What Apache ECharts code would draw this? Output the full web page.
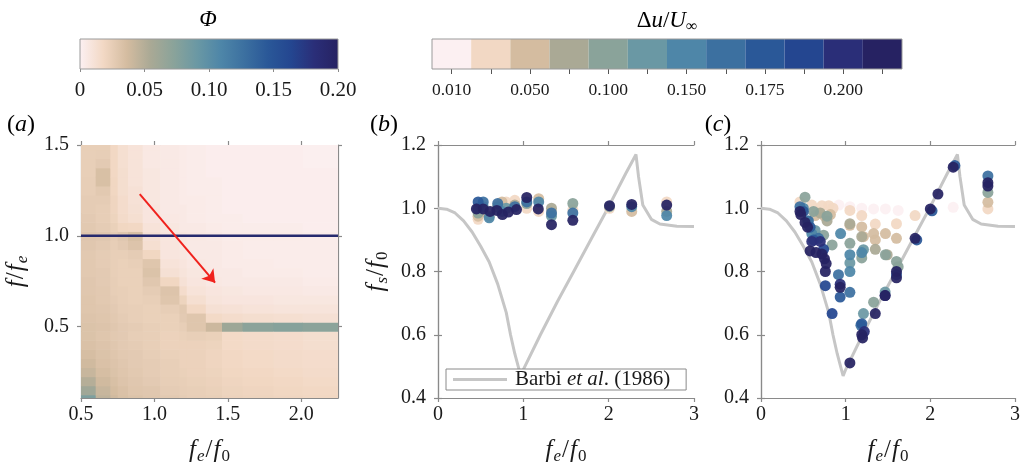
<!DOCTYPE html>
<html>
<head>
<meta charset="utf-8">
<script src="https://cdn.jsdelivr.net/npm/echarts@6/dist/echarts.min.js"></script>
<style>
  html, body { margin: 0; padding: 0; background: #fff; }
  #chart { width: 1025px; height: 470px; }
</style>
</head>
<body>
<div id="chart"></div>
<script>
// Shared colour scale, light (low) to dark navy (high)
const palette = ['#fcf0f2', '#f2d8c4', '#d4bca0', '#aaa995', '#8aa39a', '#6a98a4',
                 '#4e86a8', '#3c70a0', '#2a5898', '#244690', '#2a2e78', '#262262'];

// Colour bar ticks
const phiTicks = [0, 0.05, 0.1, 0.15, 0.2];
const phiTickLabels = ['0', '0.05', '0.10', '0.15', '0.20'];
const duTickLabels = ['0.010', '', '0.050', '', '0.100', '', '0.150', '', '0.175', '', '0.200', ''];

// Panel (a): spectral map Φ(f_e/f_0, f/f_e)
const heatColumnEdges = [0.5, 0.6, 0.7, 0.75, 0.82, 0.92, 1.04, 1.17, 1.22, 1.35, 1.46, 1.6, 1.81, 2.01, 2.25];
const heatRowCenters = [0.10, 0.15, 0.20, 0.25, 0.30, 0.35, 0.40, 0.45, 0.50, 0.55, 0.60, 0.65, 0.70, 0.75,
                        0.80, 0.85, 0.90, 0.95, 1.00, 1.05, 1.10, 1.15, 1.20, 1.25, 1.30, 1.35, 1.40, 1.45, 1.50];
const phiColumns = [
  [0.08,0.06,0.05,0.042,0.038,0.035,0.033,0.032,0.032,0.031,0.03,0.03,0.029,0.029,0.028,0.028,0.028,0.029,0.03,0.028,0.027,0.026,0.026,0.025,0.025,0.024,0.024,0.024,0.024],
  [0.045,0.042,0.038,0.035,0.033,0.032,0.031,0.03,0.031,0.03,0.029,0.028,0.028,0.027,0.027,0.026,0.026,0.027,0.029,0.026,0.025,0.025,0.026,0.028,0.034,0.034,0.027,0.025,0.024],
  [0.038,0.036,0.034,0.032,0.031,0.03,0.029,0.028,0.029,0.028,0.027,0.026,0.025,0.025,0.024,0.024,0.024,0.025,0.026,0.023,0.021,0.02,0.02,0.019,0.019,0.018,0.018,0.018,0.018],
  [0.034,0.033,0.031,0.03,0.029,0.028,0.027,0.027,0.027,0.026,0.025,0.024,0.024,0.023,0.023,0.023,0.024,0.027,0.029,0.019,0.016,0.015,0.015,0.014,0.014,0.014,0.013,0.013,0.013],
  [0.032,0.03,0.029,0.028,0.027,0.027,0.026,0.025,0.026,0.024,0.024,0.023,0.023,0.023,0.023,0.024,0.026,0.031,0.034,0.018,0.013,0.012,0.011,0.011,0.01,0.01,0.01,0.01,0.01],
  [0.03,0.029,0.027,0.026,0.026,0.025,0.024,0.024,0.024,0.023,0.023,0.024,0.026,0.029,0.032,0.03,0.019,0.013,0.012,0.01,0.008,0.008,0.007,0.007,0.007,0.007,0.006,0.006,0.006],
  [0.028,0.026,0.025,0.024,0.024,0.023,0.022,0.022,0.023,0.023,0.025,0.03,0.031,0.019,0.012,0.01,0.008,0.008,0.008,0.007,0.006,0.005,0.005,0.005,0.005,0.005,0.005,0.005,0.005],
  [0.026,0.025,0.024,0.023,0.022,0.022,0.022,0.023,0.025,0.027,0.028,0.021,0.015,0.011,0.009,0.008,0.007,0.006,0.007,0.005,0.005,0.005,0.004,0.004,0.004,0.004,0.004,0.004,0.004],
  [0.025,0.024,0.023,0.022,0.022,0.022,0.022,0.024,0.03,0.03,0.018,0.013,0.01,0.008,0.007,0.006,0.005,0.005,0.006,0.005,0.004,0.004,0.004,0.003,0.003,0.003,0.003,0.003,0.003],
  [0.024,0.023,0.022,0.021,0.02,0.02,0.021,0.023,0.04,0.017,0.012,0.009,0.008,0.006,0.005,0.005,0.005,0.005,0.005,0.004,0.003,0.003,0.003,0.003,0.003,0.002,0.002,0.002,0.002],
  [0.022,0.021,0.02,0.019,0.018,0.018,0.017,0.017,0.062,0.015,0.011,0.008,0.007,0.005,0.005,0.004,0.004,0.004,0.004,0.003,0.003,0.002,0.002,0.002,0.002,0.002,0.002,0.002,0.002],
  [0.021,0.02,0.019,0.018,0.017,0.017,0.016,0.016,0.072,0.014,0.01,0.008,0.006,0.005,0.004,0.004,0.003,0.003,0.004,0.003,0.002,0.002,0.002,0.002,0.002,0.002,0.002,0.002,0.002],
  [0.02,0.019,0.018,0.017,0.016,0.016,0.015,0.015,0.075,0.013,0.009,0.007,0.006,0.005,0.004,0.003,0.003,0.003,0.004,0.003,0.002,0.002,0.002,0.002,0.002,0.002,0.002,0.002,0.002],
  [0.019,0.018,0.017,0.016,0.015,0.015,0.014,0.014,0.072,0.012,0.009,0.007,0.005,0.004,0.003,0.003,0.003,0.003,0.003,0.002,0.002,0.002,0.002,0.002,0.002,0.002,0.001,0.001,0.001]
];
const forcingLine = [[0.5, 1.0], [2.25, 1.0]];
const driftArrow = [[0.9, 1.23], [1.413, 0.742]];

// Barbi et al. (1986) lock-in curve, f_s/f_0 against f_e/f_0
const barbiX = [0, 0.1, 0.2, 0.3, 0.4, 0.5, 0.6, 0.7, 0.8, 0.85, 0.9, 0.95, 0.97, 1.0, 1.2, 1.4, 1.6, 1.8, 2.0, 2.2, 2.32, 2.35, 2.4, 2.5, 2.6, 2.8, 3.0];
const barbiY = [1.0, 0.997, 0.985, 0.96, 0.925, 0.88, 0.83, 0.76, 0.67, 0.6, 0.54, 0.49, 0.47, 0.49, 0.6, 0.705, 0.805, 0.905, 1.005, 1.11, 1.17, 1.1, 1.01, 0.965, 0.95, 0.943, 0.942];

// Measured shedding frequency: [f_e/f_0, f_s/f_0, Δu level index]
const panelBPoints = [
  [0.47,0.965,1],[0.53,0.99,2],[0.6,0.975,3],[0.7,1.01,1],[0.75,1.02,2],[0.8,1.02,1],[0.9,1.025,1],[1.04,1.0,1],
  [1.18,0.99,1],[1.18,1.03,2],[1.33,0.99,1],[1.33,1.0,3],[1.58,0.995,1],[2.01,1.0,1],[2.27,0.99,2],[2.68,1.02,1],[2.68,0.99,3],
  [0.47,0.975,2],[0.47,0.985,4],[0.53,1.005,5],[0.7,1.005,4],[0.8,1.0,5],[0.9,1.01,3],[1.04,1.015,4],[1.33,0.975,5],[1.58,1.015,4],[2.01,1.005,4],
  [0.47,1.0,6],[0.6,0.97,6],[0.75,0.99,6],[1.18,1.02,6],[2.27,1.005,6],[2.68,0.977,6],
  [0.47,1.02,8],[0.53,1.02,7],[0.7,1.015,7],[0.9,1.005,7],[1.04,1.02,7],[1.33,0.985,7],[1.58,0.985,7],
  [0.45,0.998,11],[0.53,0.998,11],[0.61,0.99,11],[0.69,0.993,11],[0.755,0.98,11],[0.825,0.988,11],[0.92,0.996,11],
  [1.04,1.034,11],[1.175,0.998,11],[1.33,0.948,11],[1.58,0.962,11],[2.01,1.008,11],[2.27,1.012,11],[2.68,1.01,11]
];
const panelCPoints = [
  [0.92,1.01,0],[1.05,1.005,0],[1.19,1.0,0],[1.33,0.998,0],[1.47,0.998,0],[1.62,0.993,0],[2.27,1.003,0],
  [0.46,1.02,1],[0.6,1.01,1],[0.65,0.99,1],[0.72,1.008,1],[0.8,1.008,1],[0.85,1.0,1],[1.05,0.993,1],[1.19,0.977,1],
  [1.35,0.95,1],[1.6,0.951,1],[1.82,0.977,1],[2.68,0.998,1],
  [0.64,0.977,2],[0.75,0.975,2],[0.82,0.98,2],[1.05,0.946,2],[1.19,0.941,2],[1.21,0.91,2],[1.33,0.92,2],[1.35,0.9,2],
  [1.47,0.92,2],[1.6,0.905,2],[2.68,1.019,2],
  [0.7,0.985,3],[0.78,0.96,3],[1.05,0.951,3],[1.19,0.91,3],[1.35,0.87,3],[1.49,0.853,3],
  [0.52,1.035,4],[0.62,0.99,4],[0.78,0.975,4],[0.74,0.915,4],[0.84,0.884,4],[1.05,0.889,4],[1.19,0.843,4],[1.47,0.853,4],
  [1.6,0.832,4],[1.62,0.815,4],[1.33,0.703,4],[2.68,1.05,4],
  [0.55,0.96,5],[0.64,0.93,5],[1.05,0.827,5],[1.21,0.869,5],[1.21,0.667,5],[1.466,0.735,5],
  [0.5,1.0,6],[0.6,0.92,6],[0.94,0.92,6],[1.05,0.8,6],[1.05,0.853,6],[1.19,0.86,6],
  [0.46,1.005,7],[0.56,0.96,7],[0.68,0.905,7],[0.915,0.79,7],[1.05,0.734,7],[1.18,0.63,7],[2.68,1.102,7],
  [0.5,0.99,8],[0.58,0.94,8],[0.62,0.9,8],[0.935,0.719,8],[1.19,0.635,8],[1.6,0.79,8],[1.84,0.9,8],[2.02,0.992,8],[2.29,1.135,8],
  [0.74,0.87,9],[0.76,0.755,9],[0.84,0.667,9],
  [0.6,0.895,10],[0.7,0.895,10],[0.935,0.76,10],[1.22,0.61,10],[1.466,0.724,10],
  [0.46,0.99,11],[0.47,0.98,11],[0.52,0.955,11],[0.55,0.94,11],[0.58,0.865,11],[0.65,0.86,11],[0.72,0.855,11],
  [0.75,0.84,11],[0.77,0.825,11],[0.76,0.8,11],[0.935,0.75,11],[1.05,0.511,11],[1.19,0.6,11],[1.2,0.59,11],
  [1.35,0.667,11],[1.466,0.724,11],[1.6,0.8,11],[1.6,0.78,11],[1.82,0.905,11],[2.0,0.998,11],[2.09,1.045,11],
  [2.27,1.13,11],[2.68,1.081,11],[2.68,1.07,11]
];

// ---------------------------------------------------------------------------
const FONT = 'Liberation Serif';
const INK = '#1a1a1a';
const FRAME = '#8a8a8a';

const heatData = [];
phiColumns.forEach((col, c) => {
  col.forEach((phi, r) => {
    heatData.push([heatColumnEdges[c], heatColumnEdges[c + 1], heatRowCenters[r], phi]);
  });
});
const rowHalf = (heatRowCenters[1] - heatRowCenters[0]) / 2;

const barbiLine = barbiX.map((x, i) => [x, barbiY[i]]);

const labelStyle = { fontFamily: FONT, fontSize: 20, color: INK };

// Rich-text styles for italic symbols with subscripts
function mathStyles(size, subSize, gap) {
  const base = { fontFamily: FONT, fontWeight: 'normal', color: INK };
  const pad = [0, gap, 0, gap];
  return {
    i: Object.assign({ fontStyle: 'italic', fontSize: size, lineHeight: size + 4, padding: pad }, base),
    n: Object.assign({ fontSize: size, lineHeight: size + 4, padding: pad }, base),
    si: Object.assign({ fontStyle: 'italic', fontSize: subSize, lineHeight: subSize, verticalAlign: 'bottom', padding: pad }, base),
    sn: Object.assign({ fontSize: subSize, lineHeight: subSize, verticalAlign: 'bottom', padding: pad }, base),
    p: Object.assign({ fontSize: 24 }, base),
    l: Object.assign({ fontStyle: 'italic', fontSize: 24 }, base)
  };
}
const axisNameRich = mathStyles(25, 17, 0.5);
const headerRich = mathStyles(23, 16, 0);

function frameAxis(extra) {
  return Object.assign({
    type: 'value',
    axisLine: { show: true, lineStyle: { color: FRAME, width: 1.2 } },
    axisTick: { show: true, inside: false, length: 4, lineStyle: { color: FRAME, width: 1.2 } },
    axisLabel: Object.assign({ show: true, margin: 7 }, labelStyle),
    splitLine: { show: false }
  }, extra);
}
function mirrorAxis(extra) {
  const a = frameAxis(extra);
  a.axisLabel = { show: false };
  return a;
}

const grids = [
  { left: 81, top: 145, width: 257, height: 258 },   // (a)
  { left: 438, top: 145, width: 256, height: 258 },  // (b)
  { left: 761, top: 145, width: 254, height: 258 },  // (c)
  { left: 80, top: 39, width: 258, height: 30, show: true, borderColor: '#9a9a9a', borderWidth: 1, z: 5 },   // Φ bar
  { left: 432, top: 39, width: 470, height: 30, show: true, borderColor: '#9a9a9a', borderWidth: 1, z: 5 }  // Δu bar
];

const feName = '{i|f}{si|e}{n|/}{i|f}{sn|0}';

const xAxes = [
  frameAxis({ gridIndex: 0, position: 'bottom', min: 0.5, max: 2.25,
    axisTick: { show: true, length: 4, customValues: [0.5, 1.0, 1.5, 2.0], lineStyle: { color: FRAME, width: 1.2 } },
    axisLabel: Object.assign({ customValues: [0.5, 1.0, 1.5, 2.0], margin: 7, formatter: v => v.toFixed(1) }, labelStyle),
    name: feName, nameLocation: 'middle', nameGap: 38, nameTextStyle: { rich: axisNameRich } }),
  mirrorAxis({ gridIndex: 0, position: 'top', min: 0.5, max: 2.25,
    axisTick: { show: true, length: 4, customValues: [0.5, 1.0, 1.5, 2.0], lineStyle: { color: FRAME, width: 1.2 } } }),
  frameAxis({ gridIndex: 1, position: 'bottom', min: 0, max: 3, interval: 1,
    name: feName, nameLocation: 'middle', nameGap: 38, nameTextStyle: { rich: axisNameRich } }),
  mirrorAxis({ gridIndex: 1, position: 'top', min: 0, max: 3, interval: 1 }),
  frameAxis({ gridIndex: 2, position: 'bottom', min: 0, max: 3, interval: 1,
    name: feName, nameLocation: 'middle', nameGap: 38, nameTextStyle: { rich: axisNameRich } }),
  mirrorAxis({ gridIndex: 2, position: 'top', min: 0, max: 3, interval: 1 }),
  {
    type: 'value', gridIndex: 3, min: 0, max: 0.2, interval: 0.05,
    axisLine: { show: false },
    axisTick: { show: true, length: 3, lineStyle: { color: FRAME } },
    axisLabel: { margin: 11, fontFamily: FONT, fontSize: 21, color: INK,
      formatter: (v) => phiTickLabels[phiTicks.findIndex(t => Math.abs(t - v) < 1e-9)] },
    splitLine: { show: false }
  },
  {
    type: 'category', gridIndex: 4, data: duTickLabels.map((_, i) => String(i)),
    axisLine: { show: false },
    axisTick: { show: true, alignWithLabel: true, interval: 0, length: 5, lineStyle: { color: '#555' } },
    axisLabel: { interval: 0, margin: 12, fontFamily: FONT, fontSize: 17.5, color: INK,
      formatter: (v, i) => duTickLabels[i] }
  }
];

const yAxes = [
  frameAxis({ gridIndex: 0, position: 'left', min: 0.107, max: 1.5,
    axisTick: { show: true, length: 4, customValues: [0.5, 1.0, 1.5], lineStyle: { color: FRAME, width: 1.2 } },
    axisLabel: Object.assign({ customValues: [0.5, 1.0, 1.5], margin: 12, formatter: v => v.toFixed(1) }, labelStyle),
    name: '{i|f}{n|/}{i|f}{si|e}', nameLocation: 'middle', nameGap: 50, nameTextStyle: { rich: axisNameRich } }),
  mirrorAxis({ gridIndex: 0, position: 'right', min: 0.107, max: 1.5,
    axisTick: { show: true, length: 4, customValues: [0.5, 1.0, 1.5], lineStyle: { color: FRAME, width: 1.2 } } }),
  frameAxis({ gridIndex: 1, position: 'left', min: 0.4, max: 1.2, interval: 0.2,
    axisLabel: Object.assign({ margin: 12, formatter: v => v.toFixed(1) }, labelStyle),
    name: '{i|f}{si|s}{n|/}{i|f}{sn|0}', nameLocation: 'middle', nameGap: 47, nameTextStyle: { rich: axisNameRich } }),
  mirrorAxis({ gridIndex: 1, position: 'right', min: 0.4, max: 1.2, interval: 0.2 }),
  frameAxis({ gridIndex: 2, position: 'left', min: 0.4, max: 1.2, interval: 0.2,
    axisLabel: Object.assign({ margin: 12, formatter: v => v.toFixed(1) }, labelStyle) }),
  mirrorAxis({ gridIndex: 2, position: 'right', min: 0.4, max: 1.2, interval: 0.2 }),
  { type: 'value', gridIndex: 3, min: 0, max: 1, show: false },
  { type: 'value', gridIndex: 4, min: 0, max: 1, show: false }
];

// Colour-bar headings and panel letters
function headerText(text, x, y) {
  return { type: 'text', x: x, y: y, silent: true,
    style: { text: text, rich: headerRich, align: 'center', verticalAlign: 'middle' } };
}
const headers = [
  headerText('{i|Φ}', 208, 20),
  headerText('{n|Δ}{i|u}{n|/}{i|U}{sn|∞}', 667, 21),
  headerText('{p|(}{l|a}{p|)}', 21, 125),
  headerText('{p|(}{l|b}{p|)}', 384, 125),
  headerText('{p|(}{l|c}{p|)}', 718, 125)
];

function renderHeatCell(params, api) {
  const p0 = api.coord([api.value(0), api.value(2) + rowHalf]);
  const p1 = api.coord([api.value(1), api.value(2) - rowHalf]);
  const cs = params.coordSys;
  const rect = echarts.graphic.clipRectByRect(
    { x: p0[0], y: p0[1], width: p1[0] - p0[0] + 0.6, height: p1[1] - p0[1] + 0.6 },
    { x: cs.x, y: cs.y, width: cs.width, height: cs.height });
  return rect && { type: 'rect', shape: rect, style: { fill: api.visual('color') } };
}

function renderGradientBar(params, api) {
  const p0 = api.coord([api.value(0), 1]);
  const p1 = api.coord([api.value(1), 0]);
  const stops = palette.map((c, i) => ({ offset: i / (palette.length - 1), color: c }));
  return {
    type: 'rect',
    shape: { x: p0[0], y: p0[1], width: p1[0] - p0[0], height: p1[1] - p0[1] },
    style: { fill: new echarts.graphic.LinearGradient(0, 0, 1, 0, stops) }
  };
}

const pointStyle = {
  color: (p) => palette[p.value[2]],
  opacity: 0.93
};

const barbiName = 'Barbi et al. (1986)';

const option = {
  animation: false,
  backgroundColor: '#ffffff',
  graphic: headers,
  grid: grids,
  xAxis: xAxes,
  yAxis: yAxes,
  visualMap: [{
    type: 'continuous', show: false, seriesIndex: 0, dimension: 3,
    min: 0, max: 0.2, inRange: { color: palette }
  }],
  legend: {
    data: [{ name: barbiName, icon: 'rect' }],
    left: 446, top: 369,
    itemWidth: 54, itemHeight: 3, itemGap: 0,
    padding: [0, 16, 0, 7],
    backgroundColor: '#ffffff',
    borderColor: '#8a8a8a', borderWidth: 1,
    selectedMode: false,
    formatter: () => '{n|Barbi }{i|et al}{n|. (1986)}',
    textStyle: {
      padding: [0, 0, 0, 3],
      rich: {
        n: { fontFamily: FONT, fontSize: 21, lineHeight: 22, color: INK },
        i: { fontFamily: FONT, fontStyle: 'italic', fontSize: 21, lineHeight: 22, color: INK }
      }
    },
    z: 10
  },
  series: [
    {
      type: 'custom', name: 'phi', xAxisIndex: 0, yAxisIndex: 0,
      renderItem: renderHeatCell, encode: { x: [0, 1], y: 2 },
      data: heatData, silent: true, z: 1
    },
    {
      type: 'line', name: 'forcing', xAxisIndex: 0, yAxisIndex: 0,
      data: forcingLine, symbol: 'none', silent: true, z: 3,
      lineStyle: { color: '#262a6e', width: 2.5 },
      markLine: {
        silent: true, symbol: ['none', 'arrow'], symbolSize: 12,
        lineStyle: { color: '#f0221d', width: 2, type: 'solid' },
        itemStyle: { color: '#f0221d' },
        label: { show: false },
        data: [[{ coord: driftArrow[0] }, { coord: driftArrow[1] }]]
      }
    },
    {
      type: 'line', name: barbiName, xAxisIndex: 2, yAxisIndex: 2,
      data: barbiLine, symbol: 'none', z: 2,
      lineStyle: { color: '#c6c6c6', width: 3 }, itemStyle: { color: '#c6c6c6' }
    },
    {
      type: 'line', name: barbiName, xAxisIndex: 4, yAxisIndex: 4,
      data: barbiLine, symbol: 'none', z: 2,
      lineStyle: { color: '#c6c6c6', width: 3 }, itemStyle: { color: '#c6c6c6' }
    },
    {
      type: 'scatter', name: 'b', xAxisIndex: 2, yAxisIndex: 2,
      data: panelBPoints.slice().sort((a, b) => a[2] - b[2]),
      symbolSize: 11, itemStyle: pointStyle, z: 4
    },
    {
      type: 'scatter', name: 'c', xAxisIndex: 4, yAxisIndex: 4,
      data: panelCPoints.slice().sort((a, b) => a[2] - b[2]),
      symbolSize: 11, itemStyle: pointStyle, z: 4
    },
    {
      type: 'custom', name: 'phiBar', xAxisIndex: 6, yAxisIndex: 6,
      renderItem: renderGradientBar, encode: { x: [0, 1] },
      data: [[phiTicks[0], phiTicks[phiTicks.length - 1]]], silent: true
    },
    {
      type: 'bar', name: 'duBar', xAxisIndex: 7, yAxisIndex: 7,
      barWidth: '100%', silent: true,
      data: palette.map(c => ({ value: 1, itemStyle: { color: c } }))
    }
  ]
};

const chart = echarts.init(document.getElementById('chart'), null, { renderer: 'canvas' });
chart.setOption(option);
</script>
</body>
</html>
